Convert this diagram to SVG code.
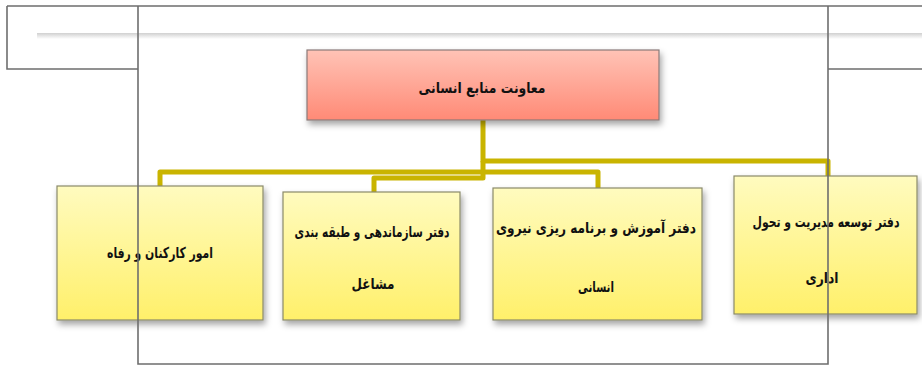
<svg xmlns="http://www.w3.org/2000/svg" width="922" height="367" viewBox="0 0 922 367">
<style>
.frame{fill:none;stroke:#6e6e6e;stroke-width:1.6}
.conn{fill:none;stroke:#c9b400;stroke-width:5;stroke-linejoin:round}
.yb{fill:url(#yg);stroke:#8a8a6a;stroke-width:1.2;filter:url(#sh)}
.rb{fill:url(#rg);stroke:#8a7a78;stroke-width:1.2;filter:url(#sh)}
.t{font-family:"DejaVu Sans",sans-serif;font-weight:bold;font-size:15px;fill:#111;text-anchor:middle}
</style>
<defs>
<linearGradient id="yg" x1="0" y1="0" x2="0" y2="1"><stop offset="0" stop-color="#fffbbf"/><stop offset="1" stop-color="#fff06a"/></linearGradient>
<linearGradient id="rg" x1="0" y1="0" x2="0" y2="1"><stop offset="0" stop-color="#ffc3b6"/><stop offset="1" stop-color="#ff8a76"/></linearGradient>
<linearGradient id="bar" x1="0" y1="0" x2="0" y2="1"><stop offset="0" stop-color="#d0d0d0"/><stop offset="1" stop-color="#ffffff"/></linearGradient>
<filter id="sh" x="-10%" y="-10%" width="130%" height="140%"><feDropShadow dx="2" dy="4" stdDeviation="3" flood-color="#000" flood-opacity="0.35"/></filter>
</defs>
<rect x="37" y="33" width="885" height="6" fill="url(#bar)"/>
<g id="connectors">
<path class="conn" d="M483,120 V161 H828 V178"/>
<path class="conn" d="M483,161 V172 H160 V188"/>
<path class="conn" d="M483,172 H598 V190"/>
<path class="conn" d="M483,172 V178 H374 V194"/>
</g>
<g id="root">
<rect class="rb" x="307" y="50" width="352" height="70"/>
<text class="t" x="482" y="93" textLength="127" lengthAdjust="spacingAndGlyphs">معاونت منابع انسانی</text>
</g>
<g id="n1">
<rect class="yb" x="57" y="186" width="206" height="134"/>
<text class="t" x="160" y="258" textLength="106" lengthAdjust="spacingAndGlyphs">امور کارکنان و رفاه</text>
</g>
<g id="n2">
<rect class="yb" x="283" y="192" width="177" height="128"/>
<text class="t" x="372" y="237" font-size="13" textLength="155" lengthAdjust="spacingAndGlyphs">دفتر سازماندهی و طبقه بندی</text>
<text class="t" x="373" y="289" textLength="43" lengthAdjust="spacingAndGlyphs">مشاغل</text>
</g>
<g id="n3">
<rect class="yb" x="493" y="188" width="209" height="132"/>
<text class="t" x="596" y="233" font-size="13" textLength="200" lengthAdjust="spacingAndGlyphs">دفتر آموزش و برنامه ریزی نیروی</text>
<text class="t" x="596" y="292" textLength="36" lengthAdjust="spacingAndGlyphs">انسانی</text>
</g>
<g id="n4">
<rect class="yb" x="734" y="176" width="183" height="138"/>
<text class="t" x="826" y="227" font-size="13" textLength="147" lengthAdjust="spacingAndGlyphs">دفتر توسعه مدیریت و تحول</text>
<text class="t" x="822" y="283" textLength="33" lengthAdjust="spacingAndGlyphs">اداری</text>
</g>
<g id="frame">
<path class="frame" d="M7,6 H922 M7,6 V69 H138 M138,6 V364 H828 V6 M828,69 H922"/>
</g>
</svg>
